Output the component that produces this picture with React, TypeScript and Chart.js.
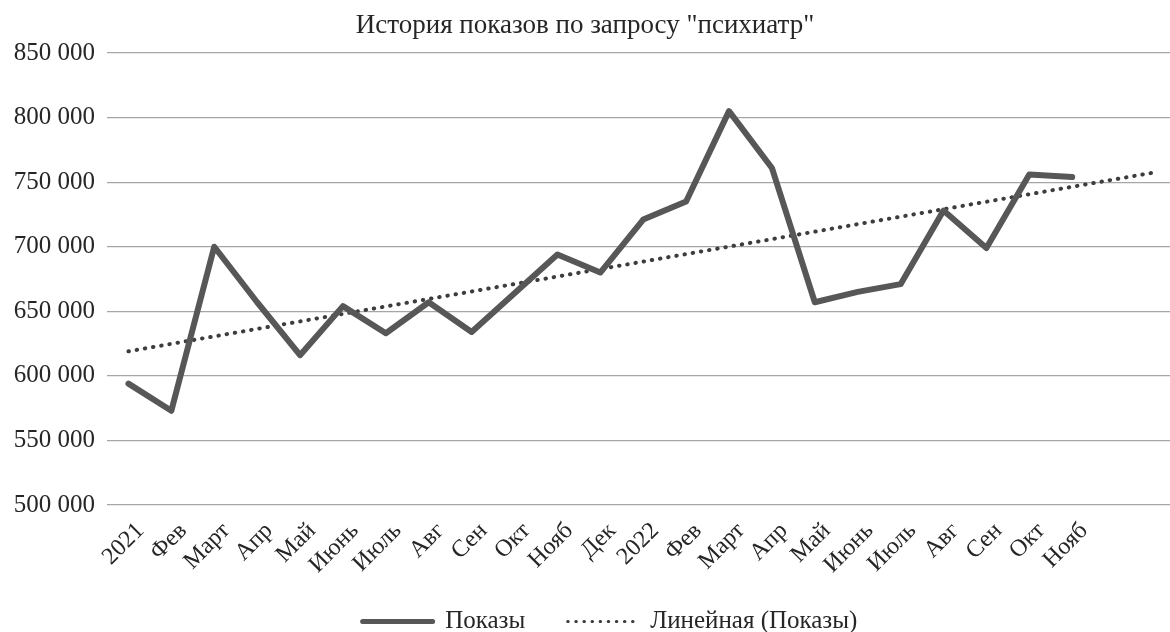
import React, { useEffect, useRef } from 'react';
import { Chart, registerables } from 'chart.js';

Chart.register(...registerables);

const chartTitle = 'История показов по запросу "психиатр"';
const seriesNames = ['Показы', 'Линейная (Показы)'];
const xLabels = [
  '2021', 'Фев', 'Март', 'Апр', 'Май', 'Июнь', 'Июль', 'Авг', 'Сен', 'Окт', 'Нояб', 'Дек',
  '2022', 'Фев', 'Март', 'Апр', 'Май', 'Июнь', 'Июль', 'Авг', 'Сен', 'Окт', 'Нояб',
];
const showsValues = [
  594000, 573000, 700000, 657000, 616000, 654000, 633000, 657000, 634000, 664000, 694000, 680000,
  721000, 735000, 805000, 761000, 657000, 665000, 671000, 728000, 699000, 756000, 754000,
];
// linear trend line end points, forecast two periods forward
const trendX = [0, 24];
const trendY = [619000, 758000];
const yMin = 500000;
const yMax = 850000;
const yStep = 50000;
const xMin = -0.5;
const xMax = 24.28;

const SERIF = "'Liberation Serif', 'Times New Roman', serif";
const TEXT = '#262626';

const fmt = (v: number) => String(v).replace(/\B(?=(\d{3})+(?!\d))/g, ' ');

const layoutTweaks = {
  id: 'layoutTweaks',
  afterLayout(chart: any) {
    const l = chart.legend;
    if (l) {
      l.left += 25;
      l.right += 25;
      l.top += 12;
      l.bottom += 12;
    }
    const x = chart.scales.x;
    if (x) x.bottom = chart.height;
  },
};

export default function App() {
  const ref = useRef<HTMLCanvasElement>(null);

  useEffect(() => {
    if (!ref.current) return;
    const chart = new Chart(ref.current, {
      type: 'line',
      data: {
        datasets: [
          {
            label: seriesNames[0],
            data: showsValues.map((v, i) => ({ x: i, y: v })),
            borderColor: '#575757',
            backgroundColor: '#575757',
            borderWidth: 6,
            borderJoinStyle: 'round',
            borderCapStyle: 'round',
            pointRadius: 0,
            tension: 0,
          },
          {
            label: seriesNames[1],
            data: trendX.map((x, i) => ({ x, y: trendY[i] })),
            borderColor: '#3d3d3d',
            backgroundColor: '#3d3d3d',
            borderWidth: 4,
            borderDash: [0.5, 7.8],
            borderCapStyle: 'round',
            pointRadius: 0,
            tension: 0,
          },
        ],
      },
      options: {
        animation: false,
        responsive: true,
        maintainAspectRatio: false,
        layout: { padding: 0 },
        scales: {
          x: {
            type: 'linear',
            min: xMin,
            max: xMax,
            afterBuildTicks: (scale: any) => {
              scale.ticks = xLabels.map((_, i) => ({ value: i }));
            },
            afterFit: (scale: any) => {
              scale.height = 49.5;
            },
            grid: { display: false },
            border: { display: false },
            ticks: {
              autoSkip: false,
              minRotation: 45,
              maxRotation: 45,
              padding: 4,
              labelOffset: 12,
              color: TEXT,
              font: { family: SERIF, size: 24 },
              callback: (value: any) => xLabels[value as number] ?? '',
            },
          },
          y: {
            min: yMin,
            max: yMax,
            afterFit: (scale: any) => {
              scale.width = 107;
            },
            grid: { color: '#a6a6a6', lineWidth: 1.2, drawTicks: false },
            border: { display: false },
            ticks: {
              stepSize: yStep,
              padding: 12,
              color: TEXT,
              font: { family: SERIF, size: 25 },
              callback: (value: any) => fmt(value as number),
            },
          },
        },
        plugins: {
          title: {
            display: true,
            text: chartTitle,
            color: TEXT,
            font: { family: SERIF, size: 27, weight: 'normal' },
            padding: { top: 10, bottom: 10.6 },
          },
          legend: {
            display: true,
            position: 'bottom',
            labels: {
              usePointStyle: true,
              pointStyle: 'line',
              pointStyleWidth: 70,
              padding: 42.5,
              color: TEXT,
              font: { family: SERIF, size: 25 },
              generateLabels: (c: any) => {
                const items = (Chart.defaults.plugins.legend.labels as any).generateLabels(c);
                items[0].lineWidth = 5;
                items[0].lineCap = 'round';
                items[1].lineWidth = 3;
                items[1].lineDash = [0.5, 7.6];
                items[1].lineCap = 'round';
                return items;
              },
            },
          },
          tooltip: { enabled: false },
        },
      },
      plugins: [layoutTweaks],
    } as any);
    return () => chart.destroy();
  }, []);

  return (
    <div style={{ position: 'fixed', left: 0, top: 0, width: 1170, height: 632, background: '#fff' }}>
      <canvas ref={ref} />
    </div>
  );
}
